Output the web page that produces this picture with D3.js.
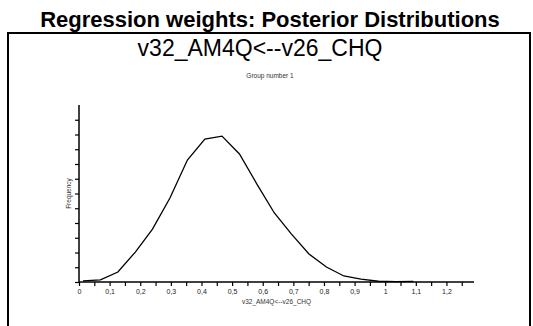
<!DOCTYPE html>
<html>
<head>
<meta charset="utf-8">
<script src="https://cdn.jsdelivr.net/npm/d3@7"></script>
<style>
  body { margin: 0; background: #fff; }
  svg { display: block; font-family: Arial, 'Liberation Sans', sans-serif; }
</style>
</head>
<body>
<svg width="533" height="326"></svg>
<script>
// posterior sample bins (bin centre, frequency)
const binCenters = [0.013, 0.070, 0.127, 0.184, 0.240, 0.297, 0.354, 0.411, 0.467, 0.524,
  0.581, 0.638, 0.694, 0.751, 0.808, 0.865, 0.921, 0.978, 1.035, 1.092]
const frequency = [7, 14, 68, 203, 359, 569, 827, 969, 989, 868,
  664, 468, 325, 190, 102, 41, 20, 5, 3, 4]
const xTicks = [0, 0.1, 0.2, 0.3, 0.4, 0.5, 0.6, 0.7, 0.8, 0.9, 1, 1.1, 1.2]
const yTicks = [0, 100, 200, 300, 400, 500, 600, 700, 800, 900, 1000, 1100]

const title = 'Regression weights: Posterior Distributions'
const subtitle = 'v32_AM4Q<--v26_CHQ'
const groupLabel = 'Group number 1'

const svg = d3.select('svg')

svg.append('text')
  .attr('x', 270).attr('y', 27)
  .attr('text-anchor', 'middle')
  .attr('font-size', 22).attr('font-weight', 'bold')
  .text(title)

// frame
svg.append('rect')
  .attr('x', 8).attr('y', 33)
  .attr('width', 522).attr('height', 310)
  .attr('fill', 'none').attr('stroke', '#000').attr('stroke-width', 2)

svg.append('text')
  .attr('x', 260).attr('y', 56)
  .attr('text-anchor', 'middle')
  .attr('font-size', 23)
  .text(subtitle)

svg.append('text')
  .attr('x', 270).attr('y', 78)
  .attr('text-anchor', 'middle')
  .attr('font-size', 6.5)
  .attr('fill', '#333')
  .text(groupLabel)

const x = d3.scaleLinear().domain([0, 1.29]).range([79, 474])
const y = d3.scaleLinear().domain([0, 1200]).range([282, 105])

const fmt = d => String(d).replace('.', ',')

const xAxis = svg.append('g')
  .attr('transform', 'translate(0,282)')
  .call(d3.axisBottom(x).tickValues(d3.range(0, 1.26, 0.05)).tickSize(4)
    .tickFormat(d => {
      const r = Math.round(d * 10) / 10
      return Math.abs(r - d) < 1e-6 && xTicks.includes(r) ? fmt(r) : ''
    }))
xAxis.select('.domain').attr('d', 'M' + x(0) + ',0H' + x(1.29)).attr('stroke-width', 1.5)
xAxis.selectAll('line').attr('stroke-width', 1.2)
xAxis.selectAll('text').attr('font-size', 7).attr('font-family', 'Arial, sans-serif').attr('fill', '#222')

const yAxis = svg.append('g')
  .attr('transform', 'translate(79,0)')
  .call(d3.axisLeft(y).tickValues(yTicks).tickSize(4).tickFormat(''))
yAxis.select('.domain').attr('d', 'M0,' + y(0) + 'V' + y(1200)).attr('stroke-width', 1.5)
yAxis.selectAll('line').attr('stroke-width', 1.2)

svg.append('text')
  .attr('x', (x(0) + x(1.29)) / 2).attr('y', 304)
  .attr('text-anchor', 'middle')
  .attr('font-size', 6.5).attr('fill', '#333')
  .text(subtitle)

svg.append('text')
  .attr('transform', 'translate(71,' + (y(0) + y(1200)) / 2 + ') rotate(-90)')
  .attr('text-anchor', 'middle')
  .attr('font-size', 6.5).attr('fill', '#333')
  .text('Frequency')

const line = d3.line()
  .x((d, i) => x(binCenters[i]))
  .y(d => y(d))

svg.append('path')
  .datum(frequency)
  .attr('d', line)
  .attr('fill', 'none')
  .attr('stroke', '#000')
  .attr('stroke-width', 1.3)
</script>
</body>
</html>
